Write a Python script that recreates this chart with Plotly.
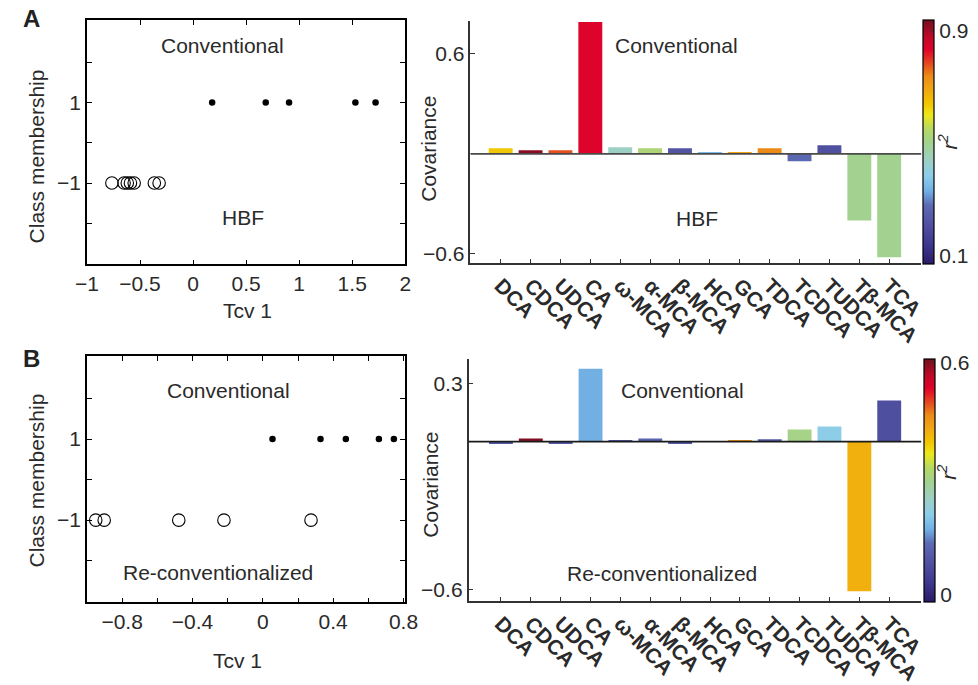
import plotly.graph_objects as go

# ---------------- data ----------------
categories = ["DCA", "CDCA", "UDCA", "CA", "ω-MCA", "α-MCA", "β-MCA", "HCA",
              "GCA", "TDCA", "TCDCA", "TUDCA", "Tβ-MCA", "TCA"]

# Panel A scatter (Tcv 1 scores)
A_conv_x = [0.18, 0.685, 0.905, 1.53, 1.72]
A_conv_y = [1, 1, 1, 1, 1]
A_hbf_x = [-0.765, -0.65, -0.62, -0.59, -0.555, -0.365, -0.32]
A_hbf_y = [-1, -1, -1, -1, -1, -1, -1]

# Panel A covariance bars and r^2
A_cov = [0.034, 0.022, 0.022, 0.79, 0.040, 0.034, 0.034, 0.006,
         0.010, 0.034, -0.044, 0.052, -0.40, -0.62]
A_r2 = [0.64, 0.92, 0.78, 0.84, 0.44, 0.53, 0.22, 0.35,
        0.70, 0.74, 0.27, 0.21, 0.50, 0.50]

# Panel B scatter
B_conv_x = [0.055, 0.328, 0.472, 0.66, 0.745]
B_conv_y = [1, 1, 1, 1, 1]
B_rec_x = [-0.95, -0.902, -0.478, -0.221, 0.274]
B_rec_y = [-1, -1, -1, -1, -1]

# Panel B covariance bars (heights from the drawn baseline) and r^2
B_base = 0.046
B_cov = [-0.010, 0.014, -0.010, 0.318, 0.006, 0.014, -0.010, 0.003,
         0.004, 0.010, 0.053, 0.066, -0.652, 0.179]
B_r2 = [0.10, 0.60, 0.10, 0.17, 0.09, 0.12, 0.10, 0.14,
        0.45, 0.10, 0.30, 0.21, 0.42, 0.08]

# tick labels
A_xt_vals = [-1, -0.5, 0, 0.5, 1, 1.5, 2]
A_xt_text = ["−1", "−0.5", "0", "0.5", "1", "1.5", "2"]
Y_class_vals = [-1, 1]
Y_class_text = ["−1", "1"]
Y_class_minor = [-2, 0, 2]
B_xt_vals = [-0.8, -0.4, 0, 0.4, 0.8]
B_xt_text = ["−0.8", "−0.4", "0", "0.4", "0.8"]
B_xt_minor = [-1, -0.6, -0.2, 0.2, 0.6]
A_cov_vals = [0.6, -0.6]
A_cov_text = ["0.6", "−0.6"]
B_cov_vals = [0.3, -0.6]
B_cov_text = ["0.3", "−0.6"]
A_cb_vals = [0.1, 0.9]
A_cb_text = ["0.1", "0.9"]
B_cb_vals = [0, 0.6]
B_cb_text = ["0", "0.6"]

# ---------------- styles ----------------
FONT = "Liberation Sans, Arial, Helvetica, sans-serif"
TXT = "#2a2a2a"
FS = 21

CSCALE = [
    [0.00, "#2a1a68"],
    [0.08, "#3e3890"],
    [0.16, "#5050a0"],
    [0.24, "#5c6ab4"],
    [0.30, "#72b0e4"],
    [0.36, "#8ccdea"],
    [0.42, "#9cd0c8"],
    [0.50, "#a4d28c"],
    [0.55, "#b4d866"],
    [0.61, "#ece81a"],
    [0.66, "#f2c400"],
    [0.72, "#f0a416"],
    [0.77, "#ec8a18"],
    [0.82, "#e44a20"],
    [0.88, "#e0022a"],
    [0.93, "#c00828"],
    [1.00, "#701020"],
]

fig = go.Figure()

# Scatter panels
def add_scatter(xs, ys, xa, ya, filled):
    if filled:
        mk = dict(symbol="circle", size=6.5, color="black")
    else:
        mk = dict(symbol="circle-open", size=12.5, color="black", line=dict(width=1.1, color="black"))
    fig.add_trace(go.Scatter(x=xs, y=ys, mode="markers", marker=mk,
                             xaxis=xa, yaxis=ya, showlegend=False, cliponaxis=False))

add_scatter(A_conv_x, A_conv_y, "x", "y", True)
add_scatter(A_hbf_x, A_hbf_y, "x", "y", False)
add_scatter(B_conv_x, B_conv_y, "x3", "y3", True)
add_scatter(B_rec_x, B_rec_y, "x3", "y3", False)

# Bar panels
fig.add_trace(go.Bar(
    x=categories, y=A_cov, base=0, width=0.8, xaxis="x2", yaxis="y2", showlegend=False,
    marker=dict(color=A_r2, colorscale=CSCALE, cmin=0.07, cmax=0.94, line=dict(width=0),
                colorbar=dict(x=936 / 978, xanchor="left", xpad=0, ypad=0,
                              y=1 - 142.5 / 685, yanchor="middle", len=245 / 685, lenmode="fraction",
                              thickness=11, thicknessmode="pixels",
                              outlinewidth=1.2, outlinecolor="black",
                              tickvals=A_cb_vals, ticktext=A_cb_text, ticks="inside", ticklen=3,
                              tickcolor="#333", tickfont=dict(family=FONT, size=FS, color=TXT)))))

fig.add_trace(go.Bar(
    x=categories, y=B_cov, base=B_base, width=0.8, xaxis="x4", yaxis="y4", showlegend=False,
    marker=dict(color=B_r2, colorscale=CSCALE, cmin=-0.018, cmax=0.61, line=dict(width=0),
                colorbar=dict(x=937 / 978, xanchor="left", xpad=0, ypad=0,
                              y=1 - 483 / 685, yanchor="middle", len=244 / 685, lenmode="fraction",
                              thickness=11, thicknessmode="pixels",
                              outlinewidth=1.2, outlinecolor="black",
                              tickvals=B_cb_vals, ticktext=B_cb_text, ticks="inside", ticklen=3,
                              tickcolor="#333", tickfont=dict(family=FONT, size=FS, color=TXT)))))

box_axis = dict(showline=True, linecolor="black", linewidth=1.6, mirror="allticks",
                ticks="inside", ticklen=5, tickcolor="black", showgrid=False, zeroline=False,
                tickfont=dict(family=FONT, size=FS, color=TXT), fixedrange=True)
minor_style = dict(ticks="inside", ticklen=5, tickcolor="black", showgrid=False)
bar_x = dict(showline=True, linecolor="#333", linewidth=1.5, mirror=False, ticks="inside",
             ticklen=5, tickcolor="#333", showgrid=False, zeroline=False, tickangle=45,
             tickfont=dict(family=FONT, size=21, color=TXT, weight="bold"), type="category")
bar_y = dict(showline=True, linecolor="#333", linewidth=1.5, mirror=False, ticks="inside",
             ticklen=5, tickcolor="#333", showgrid=False, zeroline=False,
             tickfont=dict(family=FONT, size=FS, color=TXT))

fig.update_layout(
    width=978, height=685, margin=dict(l=0, r=0, t=0, b=0),
    paper_bgcolor="white", plot_bgcolor="white", bargap=0.2,
    font=dict(family=FONT, size=FS, color=TXT),
    xaxis=dict(box_axis, domain=[77 / 978, 404 / 978], range=[-1, 2], anchor="y",
               tickvals=A_xt_vals, ticktext=A_xt_text),
    yaxis=dict(box_axis, domain=[1 - 266 / 685, 1 - 20 / 685], range=[-3.02, 3.05], anchor="x",
               tickvals=Y_class_vals, ticktext=Y_class_text,
               minor=dict(minor_style, tickvals=Y_class_minor)),
    xaxis2=dict(bar_x, domain=[471 / 978, 934 / 978], range=[-1.01, 14.07], anchor="y2"),
    yaxis2=dict(bar_y, domain=[1 - 265 / 685, 1 - 21 / 685], range=[-0.657, 0.797], anchor="x2",
                tickvals=A_cov_vals, ticktext=A_cov_text),
    xaxis3=dict(box_axis, domain=[77 / 978, 403.3 / 978], range=[-1, 0.806], anchor="y3",
                tickvals=B_xt_vals, ticktext=B_xt_text,
                minor=dict(minor_style, tickvals=B_xt_minor)),
    yaxis3=dict(box_axis, domain=[1 - 606 / 685, 1 - 358 / 685], range=[-3.03, 3.05], anchor="x3",
                tickvals=Y_class_vals, ticktext=Y_class_text,
                minor=dict(minor_style, tickvals=Y_class_minor)),
    xaxis4=dict(bar_x, domain=[469 / 978, 934 / 978], range=[-1.085, 14.07], anchor="y4"),
    yaxis4=dict(bar_y, domain=[1 - 605 / 685, 1 - 361 / 685], range=[-0.651, 0.407], anchor="x4",
                tickvals=B_cov_vals, ticktext=B_cov_text),
)

# zero / baseline lines of the bar panels
fig.add_shape(type="line", xref="x2 domain", yref="y2", x0=0, x1=1, y0=0, y1=0,
              line=dict(color="#4a4a4a", width=1.8))
fig.add_shape(type="line", xref="x4 domain", yref="y4", x0=0, x1=1, y0=B_base, y1=B_base,
              line=dict(color="#1a1a1a", width=1.6))

def ann(text, px, py, size=FS, angle=0, bold=False, italic=False, color=TXT):
    if bold:
        text = "<b>" + text + "</b>"
    if italic:
        text = "<i>" + text + "</i>"
    fig.add_annotation(text=text, xref="paper", yref="paper", x=px / 978, y=1 - py / 685,
                       xanchor="center", yanchor="middle", showarrow=False, textangle=angle,
                       font=dict(family=FONT, size=size, color=color))

# panel letters
ann("A", 20, 19, size=24, bold=True, color="#222")
ann("B", 20, 361, size=24, bold=True, color="#222")

# axis titles
ann("Class membership", 25, 157, angle=-90)
ann("Class membership", 25, 483, angle=-90)
ann("Tcv 1", 242, 312)
ann("Tcv 1", 232, 664)
ann("Covariance", 428, 150, angle=-90)
ann("Covariance", 430, 488, angle=-90)
ann("r<sup>2</sup>", 962, 143, angle=-90, italic=True)
ann("r<sup>2</sup>", 961, 475, angle=-90, italic=True)

# region labels
ann("Conventional", 216, 46)
ann("HBF", 237, 219)
ann("Conventional", 683, 46)
ann("HBF", 704, 220)
ann("Conventional", 222, 393)
ann("Re-conventionalized", 212, 576)
ann("Conventional", 689, 393)
ann("Re-conventionalized", 668, 577)

fig.write_html("out.html")
